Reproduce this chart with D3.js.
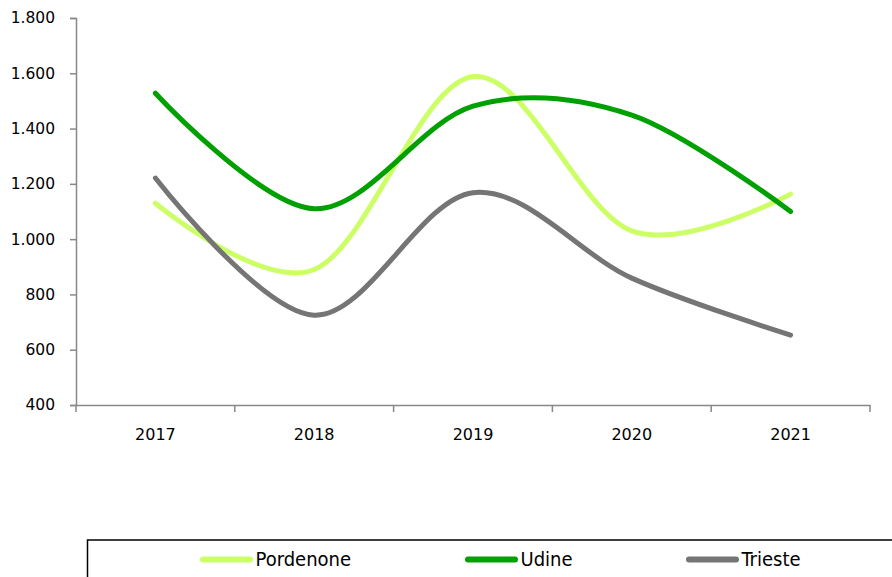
<!DOCTYPE html>
<html><head><meta charset="utf-8">
<script src="https://cdn.jsdelivr.net/npm/d3@7"></script>
<style>body{margin:0;background:#fff}svg{display:block}</style>
</head><body>
<script>
const years = ["2017","2018","2019","2020","2021"];
const pordenone = [1130, 890, 1588, 1030, 1163];
const udine = [1528, 1110, 1481, 1449, 1100];
const trieste = [1221, 725, 1168, 859, 653];
const yTicks = [400, 600, 800, 1000, 1200, 1400, 1600, 1800];
const seriesNames = ["Pordenone", "Udine", "Trieste"];
const seriesColors = ["#ccff66", "#00a000", "#757575"];

(function(){
const W = 892, H = 577;
const svg = d3.select("body").append("svg").attr("width", W).attr("height", H);
const mLeft = 76, mRight = 870, mTop = 18, mBottom = 405;

const x = d3.scaleBand().domain(years).range([mLeft, mRight]);
const y = d3.scaleLinear().domain([400, 1800]).range([mBottom, mTop]);
const fmt = v => d3.format(",")(v).replace(/,/g, ".");

// Y axis
const ya = svg.append("g").attr("transform", `translate(${mLeft},0)`)
  .call(d3.axisLeft(y).tickValues(yTicks).tickSize(6).tickPadding(15).tickFormat(fmt));
ya.select(".domain").attr("stroke", "#888").attr("stroke-width", 1.5);
ya.selectAll(".tick line").attr("stroke", "#888").attr("stroke-width", 1.5);
ya.selectAll("text").attr("font-family", "DejaVu Sans, Verdana, sans-serif").attr("font-size", 15.5).attr("fill", "#000");

// X axis
const xa = svg.append("g").attr("transform", `translate(0,${mBottom})`)
  .call(d3.axisBottom(x).tickSize(0).tickPadding(0));
xa.select(".domain").attr("stroke", "#888").attr("stroke-width", 1.5);
xa.selectAll(".tick text").remove();
const edges = years.map(d => x(d)).concat([mRight]);
xa.selectAll("line.tk").data(edges).enter().append("line").attr("class","tk")
  .attr("x1", d => d).attr("x2", d => d).attr("y1", 0).attr("y2", 7)
  .attr("stroke", "#888").attr("stroke-width", 1.5);
svg.append("g").selectAll("text").data(years).enter().append("text")
  .attr("x", d => x(d) + x.bandwidth()/2).attr("y", 439.5)
  .attr("text-anchor", "middle")
  .attr("font-family", "DejaVu Sans, Verdana, sans-serif").attr("font-size", 16)
  .text(d => d);

// Lines
const data = [pordenone, udine, trieste];
const line = d3.line().x((d,i) => x(years[i]) + x.bandwidth()/2).y(d => y(d))
  .curve(d3.curveCardinal.tension(0));
svg.append("g").selectAll("path").data(data).enter().append("path")
  .attr("d", line).attr("fill", "none")
  .attr("stroke", (d,i) => seriesColors[i]).attr("stroke-width", 5)
  .attr("stroke-linecap", "round").attr("stroke-linejoin", "round");

// Legend
svg.append("rect").attr("x", 87.5).attr("y", 540).attr("width", 820).attr("height", 60)
  .attr("fill", "none").attr("stroke", "#000").attr("stroke-width", 1.5);
const legX = [200, 465, 686];
const lg = svg.append("g").selectAll("g").data(seriesNames).enter().append("g")
  .attr("transform", (d,i) => `translate(${legX[i]},559.5)`);
lg.append("line").attr("x1", 3).attr("x2", 50).attr("y1", 0).attr("y2", 0)
  .attr("stroke", (d,i) => seriesColors[i]).attr("stroke-width", 6).attr("stroke-linecap", "round");
lg.append("text").attr("x", 55.5).attr("y", 6.5)
  .attr("font-family", "DejaVu Sans Condensed, DejaVu Sans, sans-serif").attr("font-size", 20)
  .attr("font-stretch", "condensed")
  .text(d => d);
})();
</script>
</body></html>
